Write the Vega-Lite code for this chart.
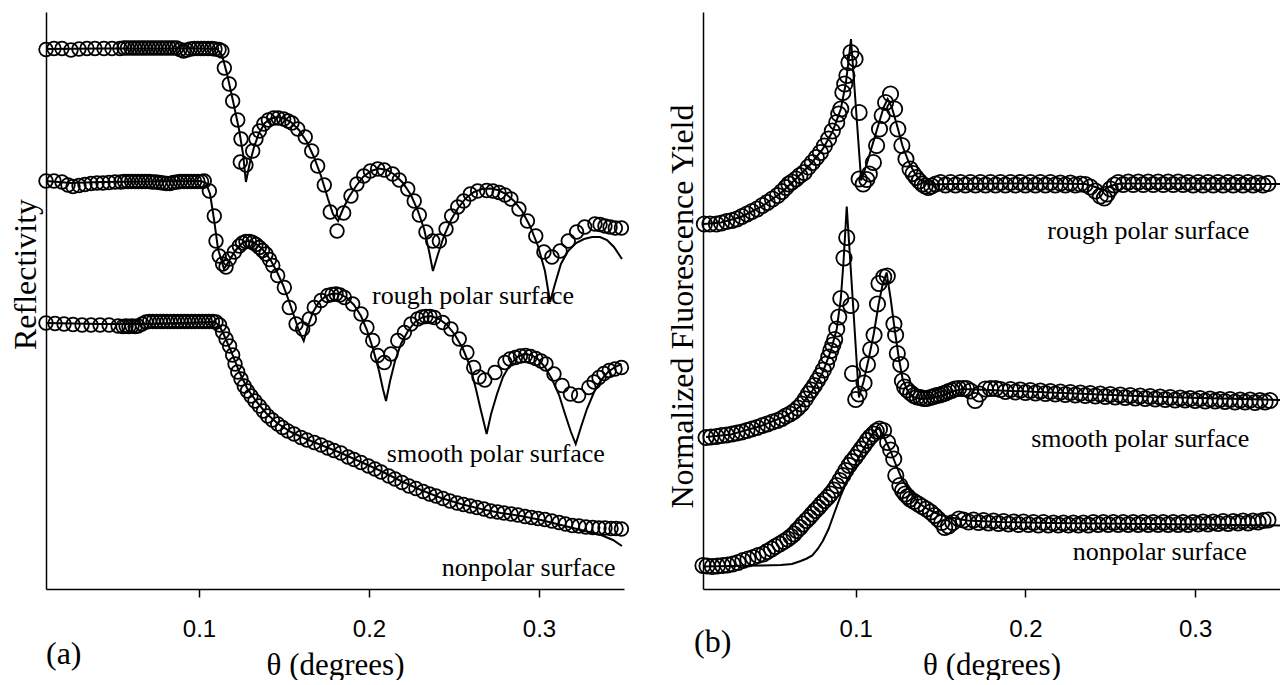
{
  "$schema": "https://vega.github.io/schema/vega-lite/v6.json",
  "background": "white",
  "padding": {"left": 9, "top": 12, "right": 0, "bottom": 0},
  "bounds": "flush",
  "spacing": 79,
  "config": {
    "view": {"stroke": null},
    "axis": {
      "grid": false,
      "domainColor": "black",
      "domainWidth": 1.5,
      "tickColor": "black",
      "tickWidth": 1.5,
      "labelColor": "black",
      "titleColor": "black",
      "titleFont": "Liberation Serif",
      "titleFontWeight": "normal",
      "labelFont": "Liberation Sans"
    }
  },
  "datasets": {
    "refl_pts": [
      {"curve":"rough","theta":0.0100,"value":10.79},{"curve":"rough","theta":0.0147,"value":10.81},{"curve":"rough","theta":0.0194,"value":10.81},{"curve":"rough","theta":0.0247,"value":10.78},{"curve":"rough","theta":0.0294,"value":10.80},{"curve":"rough","theta":0.0341,"value":10.81},{"curve":"rough","theta":0.0388,"value":10.81},{"curve":"rough","theta":0.0441,"value":10.81},{"curve":"rough","theta":0.0488,"value":10.81},{"curve":"rough","theta":0.0535,"value":10.81},
      {"curve":"rough","theta":0.0559,"value":10.82},{"curve":"rough","theta":0.0579,"value":10.82},{"curve":"rough","theta":0.0600,"value":10.82},{"curve":"rough","theta":0.0621,"value":10.82},{"curve":"rough","theta":0.0641,"value":10.82},{"curve":"rough","theta":0.0662,"value":10.82},{"curve":"rough","theta":0.0682,"value":10.82},{"curve":"rough","theta":0.0703,"value":10.82},{"curve":"rough","theta":0.0724,"value":10.82},{"curve":"rough","theta":0.0744,"value":10.82},{"curve":"rough","theta":0.0765,"value":10.82},{"curve":"rough","theta":0.0785,"value":10.82},{"curve":"rough","theta":0.0806,"value":10.82},{"curve":"rough","theta":0.0826,"value":10.82},{"curve":"rough","theta":0.0847,"value":10.82},{"curve":"rough","theta":0.0868,"value":10.82},
      {"curve":"rough","theta":0.0888,"value":10.79},{"curve":"rough","theta":0.0909,"value":10.76},{"curve":"rough","theta":0.0929,"value":10.78},{"curve":"rough","theta":0.0950,"value":10.80},{"curve":"rough","theta":0.0971,"value":10.81},{"curve":"rough","theta":0.0991,"value":10.81},{"curve":"rough","theta":0.1012,"value":10.81},{"curve":"rough","theta":0.1032,"value":10.81},{"curve":"rough","theta":0.1053,"value":10.81},{"curve":"rough","theta":0.1074,"value":10.81},{"curve":"rough","theta":0.1094,"value":10.80},{"curve":"rough","theta":0.1118,"value":10.79},{"curve":"rough","theta":0.1135,"value":10.76},
      {"curve":"rough","theta":0.1149,"value":10.42},{"curve":"rough","theta":0.1178,"value":10.10},{"curve":"rough","theta":0.1198,"value":9.76},{"curve":"rough","theta":0.1228,"value":9.38},{"curve":"rough","theta":0.1247,"value":9.00},{"curve":"rough","theta":0.1243,"value":8.54},{"curve":"rough","theta":0.1276,"value":8.48},{"curve":"rough","theta":0.1316,"value":8.76},{"curve":"rough","theta":0.1335,"value":9.00},{"curve":"rough","theta":0.1355,"value":9.16},{"curve":"rough","theta":0.1381,"value":9.30},{"curve":"rough","theta":0.1408,"value":9.38},{"curve":"rough","theta":0.1439,"value":9.42},{"curve":"rough","theta":0.1466,"value":9.42},{"curve":"rough","theta":0.1498,"value":9.40},{"curve":"rough","theta":0.1524,"value":9.36},{"curve":"rough","theta":0.1547,"value":9.32},{"curve":"rough","theta":0.1581,"value":9.20},{"curve":"rough","theta":0.1625,"value":9.04},{"curve":"rough","theta":0.1663,"value":8.76},{"curve":"rough","theta":0.1698,"value":8.46},{"curve":"rough","theta":0.1737,"value":8.08},{"curve":"rough","theta":0.1772,"value":7.54},{"curve":"rough","theta":0.1812,"value":7.16},{"curve":"rough","theta":0.1851,"value":7.52},{"curve":"rough","theta":0.1894,"value":7.86},{"curve":"rough","theta":0.1929,"value":8.10},{"curve":"rough","theta":0.1969,"value":8.26},{"curve":"rough","theta":0.2008,"value":8.36},{"curve":"rough","theta":0.2051,"value":8.40},{"curve":"rough","theta":0.2090,"value":8.38},{"curve":"rough","theta":0.2139,"value":8.30},{"curve":"rough","theta":0.2178,"value":8.18},{"curve":"rough","theta":0.2228,"value":8.00},{"curve":"rough","theta":0.2266,"value":7.76},{"curve":"rough","theta":0.2296,"value":7.48},{"curve":"rough","theta":0.2335,"value":7.14},{"curve":"rough","theta":0.2375,"value":6.96},{"curve":"rough","theta":0.2414,"value":6.96},{"curve":"rough","theta":0.2453,"value":7.20},{"curve":"rough","theta":0.2486,"value":7.46},{"curve":"rough","theta":0.2522,"value":7.64},{"curve":"rough","theta":0.2557,"value":7.76},{"curve":"rough","theta":0.2596,"value":7.90},{"curve":"rough","theta":0.2639,"value":7.96},{"curve":"rough","theta":0.2692,"value":7.97},{"curve":"rough","theta":0.2729,"value":7.96},{"curve":"rough","theta":0.2765,"value":7.93},{"curve":"rough","theta":0.2800,"value":7.88},{"curve":"rough","theta":0.2835,"value":7.80},{"curve":"rough","theta":0.2882,"value":7.60},{"curve":"rough","theta":0.2932,"value":7.36},{"curve":"rough","theta":0.2981,"value":7.06},{"curve":"rough","theta":0.3029,"value":6.74},{"curve":"rough","theta":0.3076,"value":6.64},{"curve":"rough","theta":0.3124,"value":6.76},{"curve":"rough","theta":0.3172,"value":6.96},{"curve":"rough","theta":0.3221,"value":7.14},{"curve":"rough","theta":0.3269,"value":7.24},{"curve":"rough","theta":0.3329,"value":7.30},{"curve":"rough","theta":0.3359,"value":7.29},{"curve":"rough","theta":0.3388,"value":7.26},{"curve":"rough","theta":0.3418,"value":7.24},{"curve":"rough","theta":0.3449,"value":7.22},{"curve":"rough","theta":0.3485,"value":7.22},

      {"curve":"smooth","theta":0.0100,"value":8.16},{"curve":"smooth","theta":0.0147,"value":8.16},{"curve":"smooth","theta":0.0194,"value":8.14},{"curve":"smooth","theta":0.0229,"value":8.08},{"curve":"smooth","theta":0.0259,"value":8.05},{"curve":"smooth","theta":0.0294,"value":8.07},{"curve":"smooth","theta":0.0329,"value":8.09},{"curve":"smooth","theta":0.0365,"value":8.11},{"curve":"smooth","theta":0.0400,"value":8.12},{"curve":"smooth","theta":0.0435,"value":8.12},{"curve":"smooth","theta":0.0471,"value":8.13},{"curve":"smooth","theta":0.0506,"value":8.14},{"curve":"smooth","theta":0.0541,"value":8.14},
      {"curve":"smooth","theta":0.0562,"value":8.15},{"curve":"smooth","theta":0.0582,"value":8.15},{"curve":"smooth","theta":0.0603,"value":8.15},{"curve":"smooth","theta":0.0624,"value":8.15},{"curve":"smooth","theta":0.0644,"value":8.15},{"curve":"smooth","theta":0.0665,"value":8.15},{"curve":"smooth","theta":0.0685,"value":8.15},{"curve":"smooth","theta":0.0706,"value":8.15},{"curve":"smooth","theta":0.0726,"value":8.14},{"curve":"smooth","theta":0.0747,"value":8.14},{"curve":"smooth","theta":0.0768,"value":8.13},{"curve":"smooth","theta":0.0788,"value":8.12},{"curve":"smooth","theta":0.0809,"value":8.11},{"curve":"smooth","theta":0.0829,"value":8.11},{"curve":"smooth","theta":0.0850,"value":8.13},{"curve":"smooth","theta":0.0871,"value":8.14},{"curve":"smooth","theta":0.0891,"value":8.15},{"curve":"smooth","theta":0.0912,"value":8.15},{"curve":"smooth","theta":0.0932,"value":8.15},{"curve":"smooth","theta":0.0953,"value":8.15},{"curve":"smooth","theta":0.0974,"value":8.15},{"curve":"smooth","theta":0.0994,"value":8.15},{"curve":"smooth","theta":0.1015,"value":8.15},
      {"curve":"smooth","theta":0.1031,"value":8.16},{"curve":"smooth","theta":0.1061,"value":7.96},{"curve":"smooth","theta":0.1090,"value":7.46},{"curve":"smooth","theta":0.1100,"value":6.96},{"curve":"smooth","theta":0.1119,"value":6.66},{"curve":"smooth","theta":0.1139,"value":6.50},{"curve":"smooth","theta":0.1159,"value":6.44},{"curve":"smooth","theta":0.1178,"value":6.60},{"curve":"smooth","theta":0.1208,"value":6.74},{"curve":"smooth","theta":0.1237,"value":6.86},{"curve":"smooth","theta":0.1256,"value":6.92},{"curve":"smooth","theta":0.1276,"value":6.95},{"curve":"smooth","theta":0.1297,"value":6.95},{"curve":"smooth","theta":0.1316,"value":6.93},{"curve":"smooth","theta":0.1335,"value":6.89},{"curve":"smooth","theta":0.1355,"value":6.83},{"curve":"smooth","theta":0.1374,"value":6.77},{"curve":"smooth","theta":0.1394,"value":6.70},{"curve":"smooth","theta":0.1415,"value":6.59},{"curve":"smooth","theta":0.1434,"value":6.47},{"curve":"smooth","theta":0.1463,"value":6.27},{"curve":"smooth","theta":0.1502,"value":6.03},{"curve":"smooth","theta":0.1531,"value":5.63},{"curve":"smooth","theta":0.1571,"value":5.30},{"curve":"smooth","theta":0.1610,"value":5.20},{"curve":"smooth","theta":0.1649,"value":5.40},{"curve":"smooth","theta":0.1678,"value":5.63},{"curve":"smooth","theta":0.1718,"value":5.77},{"curve":"smooth","theta":0.1757,"value":5.87},{"curve":"smooth","theta":0.1782,"value":5.89},{"curve":"smooth","theta":0.1806,"value":5.90},{"curve":"smooth","theta":0.1829,"value":5.88},{"curve":"smooth","theta":0.1855,"value":5.83},{"curve":"smooth","theta":0.1904,"value":5.70},{"curve":"smooth","theta":0.1953,"value":5.50},{"curve":"smooth","theta":0.1988,"value":5.23},{"curve":"smooth","theta":0.2022,"value":4.97},{"curve":"smooth","theta":0.2051,"value":4.67},{"curve":"smooth","theta":0.2090,"value":4.53},{"curve":"smooth","theta":0.2129,"value":4.70},{"curve":"smooth","theta":0.2169,"value":4.97},{"curve":"smooth","theta":0.2208,"value":5.13},{"curve":"smooth","theta":0.2247,"value":5.30},{"curve":"smooth","theta":0.2286,"value":5.40},{"curve":"smooth","theta":0.2312,"value":5.44},{"curve":"smooth","theta":0.2335,"value":5.45},{"curve":"smooth","theta":0.2359,"value":5.45},{"curve":"smooth","theta":0.2384,"value":5.43},{"curve":"smooth","theta":0.2434,"value":5.33},{"curve":"smooth","theta":0.2482,"value":5.20},{"curve":"smooth","theta":0.2531,"value":5.00},{"curve":"smooth","theta":0.2576,"value":4.73},{"curve":"smooth","theta":0.2616,"value":4.43},{"curve":"smooth","theta":0.2647,"value":4.24},{"curve":"smooth","theta":0.2681,"value":4.18},{"curve":"smooth","theta":0.2741,"value":4.33},{"curve":"smooth","theta":0.2800,"value":4.53},{"curve":"smooth","theta":0.2829,"value":4.60},{"curve":"smooth","theta":0.2861,"value":4.63},{"curve":"smooth","theta":0.2891,"value":4.66},{"curve":"smooth","theta":0.2921,"value":4.67},{"curve":"smooth","theta":0.2950,"value":4.65},{"curve":"smooth","theta":0.2981,"value":4.61},{"curve":"smooth","theta":0.3012,"value":4.56},{"curve":"smooth","theta":0.3041,"value":4.50},{"curve":"smooth","theta":0.3088,"value":4.30},{"curve":"smooth","theta":0.3136,"value":4.07},{"curve":"smooth","theta":0.3185,"value":3.90},{"curve":"smooth","theta":0.3233,"value":3.87},{"curve":"smooth","theta":0.3293,"value":4.03},{"curve":"smooth","theta":0.3324,"value":4.14},{"curve":"smooth","theta":0.3353,"value":4.23},{"curve":"smooth","theta":0.3382,"value":4.31},{"curve":"smooth","theta":0.3413,"value":4.37},{"curve":"smooth","theta":0.3447,"value":4.40},{"curve":"smooth","theta":0.3485,"value":4.43},

      {"curve":"nonpolar","theta":0.0100,"value":5.32},{"curve":"nonpolar","theta":0.0153,"value":5.31},{"curve":"nonpolar","theta":0.0206,"value":5.30},{"curve":"nonpolar","theta":0.0259,"value":5.29},{"curve":"nonpolar","theta":0.0312,"value":5.28},{"curve":"nonpolar","theta":0.0365,"value":5.28},{"curve":"nonpolar","theta":0.0418,"value":5.28},{"curve":"nonpolar","theta":0.0471,"value":5.28},{"curve":"nonpolar","theta":0.0524,"value":5.26},{"curve":"nonpolar","theta":0.0553,"value":5.25},{"curve":"nonpolar","theta":0.0571,"value":5.26},{"curve":"nonpolar","theta":0.0588,"value":5.25},{"curve":"nonpolar","theta":0.0606,"value":5.26},{"curve":"nonpolar","theta":0.0624,"value":5.25},{"curve":"nonpolar","theta":0.0641,"value":5.26},{"curve":"nonpolar","theta":0.0665,"value":5.30},{"curve":"nonpolar","theta":0.0688,"value":5.34},
      {"curve":"nonpolar","theta":0.0709,"value":5.35},{"curve":"nonpolar","theta":0.0729,"value":5.35},{"curve":"nonpolar","theta":0.0750,"value":5.35},{"curve":"nonpolar","theta":0.0771,"value":5.35},{"curve":"nonpolar","theta":0.0791,"value":5.35},{"curve":"nonpolar","theta":0.0812,"value":5.35},{"curve":"nonpolar","theta":0.0832,"value":5.35},{"curve":"nonpolar","theta":0.0853,"value":5.35},{"curve":"nonpolar","theta":0.0874,"value":5.35},{"curve":"nonpolar","theta":0.0894,"value":5.35},{"curve":"nonpolar","theta":0.0915,"value":5.35},{"curve":"nonpolar","theta":0.0935,"value":5.35},{"curve":"nonpolar","theta":0.0956,"value":5.35},{"curve":"nonpolar","theta":0.0976,"value":5.35},{"curve":"nonpolar","theta":0.0997,"value":5.35},{"curve":"nonpolar","theta":0.1018,"value":5.35},{"curve":"nonpolar","theta":0.1038,"value":5.35},{"curve":"nonpolar","theta":0.1059,"value":5.35},{"curve":"nonpolar","theta":0.1079,"value":5.35},{"curve":"nonpolar","theta":0.1100,"value":5.34},{"curve":"nonpolar","theta":0.1121,"value":5.28},
      {"curve":"nonpolar","theta":0.1139,"value":5.14},{"curve":"nonpolar","theta":0.1159,"value":5.00},{"curve":"nonpolar","theta":0.1180,"value":4.86},{"curve":"nonpolar","theta":0.1198,"value":4.68},{"curve":"nonpolar","theta":0.1212,"value":4.50},{"curve":"nonpolar","theta":0.1228,"value":4.34},{"curve":"nonpolar","theta":0.1247,"value":4.20},{"curve":"nonpolar","theta":0.1266,"value":4.06},{"curve":"nonpolar","theta":0.1285,"value":3.96},{"curve":"nonpolar","theta":0.1306,"value":3.86},{"curve":"nonpolar","theta":0.1329,"value":3.76},{"curve":"nonpolar","theta":0.1355,"value":3.66},{"curve":"nonpolar","theta":0.1379,"value":3.56},{"curve":"nonpolar","theta":0.1404,"value":3.46},{"curve":"nonpolar","theta":0.1432,"value":3.38},{"curve":"nonpolar","theta":0.1463,"value":3.30},{"curve":"nonpolar","theta":0.1491,"value":3.23},{"curve":"nonpolar","theta":0.1522,"value":3.16},{"curve":"nonpolar","theta":0.1559,"value":3.10},{"curve":"nonpolar","theta":0.1600,"value":3.03},{"curve":"nonpolar","theta":0.1635,"value":2.98},{"curve":"nonpolar","theta":0.1678,"value":2.93},{"curve":"nonpolar","theta":0.1718,"value":2.88},{"curve":"nonpolar","theta":0.1757,"value":2.82},{"curve":"nonpolar","theta":0.1794,"value":2.77},{"curve":"nonpolar","theta":0.1835,"value":2.72},{"curve":"nonpolar","theta":0.1876,"value":2.64},{"curve":"nonpolar","theta":0.1912,"value":2.59},{"curve":"nonpolar","theta":0.1953,"value":2.53},{"curve":"nonpolar","theta":0.1996,"value":2.46},{"curve":"nonpolar","theta":0.2035,"value":2.40},{"curve":"nonpolar","theta":0.2071,"value":2.34},{"curve":"nonpolar","theta":0.2116,"value":2.26},{"curve":"nonpolar","theta":0.2153,"value":2.20},{"curve":"nonpolar","theta":0.2194,"value":2.13},{"curve":"nonpolar","theta":0.2235,"value":2.06},{"curve":"nonpolar","theta":0.2276,"value":2.01},{"curve":"nonpolar","theta":0.2318,"value":1.95},{"curve":"nonpolar","theta":0.2356,"value":1.90},{"curve":"nonpolar","theta":0.2394,"value":1.86},{"curve":"nonpolar","theta":0.2435,"value":1.81},{"curve":"nonpolar","theta":0.2476,"value":1.76},{"curve":"nonpolar","theta":0.2518,"value":1.72},{"curve":"nonpolar","theta":0.2556,"value":1.69},{"curve":"nonpolar","theta":0.2596,"value":1.66},{"curve":"nonpolar","theta":0.2635,"value":1.63},{"curve":"nonpolar","theta":0.2676,"value":1.60},{"curve":"nonpolar","theta":0.2716,"value":1.56},{"curve":"nonpolar","theta":0.2756,"value":1.54},{"curve":"nonpolar","theta":0.2794,"value":1.52},{"curve":"nonpolar","theta":0.2836,"value":1.50},{"curve":"nonpolar","theta":0.2876,"value":1.48},{"curve":"nonpolar","theta":0.2918,"value":1.45},{"curve":"nonpolar","theta":0.2956,"value":1.43},{"curve":"nonpolar","theta":0.2994,"value":1.41},{"curve":"nonpolar","theta":0.3035,"value":1.39},{"curve":"nonpolar","theta":0.3076,"value":1.36},{"curve":"nonpolar","theta":0.3118,"value":1.33},{"curve":"nonpolar","theta":0.3156,"value":1.30},{"curve":"nonpolar","theta":0.3196,"value":1.27},{"curve":"nonpolar","theta":0.3235,"value":1.26},{"curve":"nonpolar","theta":0.3276,"value":1.24},{"curve":"nonpolar","theta":0.3316,"value":1.23},{"curve":"nonpolar","theta":0.3353,"value":1.22},{"curve":"nonpolar","theta":0.3388,"value":1.22},{"curve":"nonpolar","theta":0.3424,"value":1.21},{"curve":"nonpolar","theta":0.3453,"value":1.21},{"curve":"nonpolar","theta":0.3485,"value":1.20}
    ],
    "refl_fit": [
      {"curve":"rough","theta":0.0100,"value":10.80},{"curve":"rough","theta":0.0424,"value":10.81},{"curve":"rough","theta":0.1012,"value":10.81},{"curve":"rough","theta":0.1106,"value":10.80},{"curve":"rough","theta":0.1135,"value":10.68},{"curve":"rough","theta":0.1165,"value":10.30},{"curve":"rough","theta":0.1200,"value":9.76},{"curve":"rough","theta":0.1235,"value":9.20},{"curve":"rough","theta":0.1259,"value":8.70},{"curve":"rough","theta":0.1276,"value":8.14},{"curve":"rough","theta":0.1300,"value":8.54},{"curve":"rough","theta":0.1324,"value":8.84},{"curve":"rough","theta":0.1353,"value":9.12},{"curve":"rough","theta":0.1388,"value":9.32},{"curve":"rough","theta":0.1424,"value":9.41},{"curve":"rough","theta":0.1459,"value":9.44},{"curve":"rough","theta":0.1494,"value":9.42},{"curve":"rough","theta":0.1541,"value":9.34},{"curve":"rough","theta":0.1588,"value":9.18},{"curve":"rough","theta":0.1635,"value":8.94},{"curve":"rough","theta":0.1676,"value":8.64},{"curve":"rough","theta":0.1718,"value":8.26},{"curve":"rough","theta":0.1759,"value":7.80},{"curve":"rough","theta":0.1788,"value":7.50},{"curve":"rough","theta":0.1818,"value":7.36},{"curve":"rough","theta":0.1847,"value":7.60},{"curve":"rough","theta":0.1882,"value":7.84},{"curve":"rough","theta":0.1924,"value":8.06},{"curve":"rough","theta":0.1965,"value":8.24},{"curve":"rough","theta":0.2012,"value":8.36},{"curve":"rough","theta":0.2059,"value":8.41},{"curve":"rough","theta":0.2106,"value":8.38},{"curve":"rough","theta":0.2153,"value":8.28},{"curve":"rough","theta":0.2200,"value":8.12},{"curve":"rough","theta":0.2247,"value":7.88},{"curve":"rough","theta":0.2288,"value":7.56},{"curve":"rough","theta":0.2324,"value":7.20},{"curve":"rough","theta":0.2353,"value":6.76},{"curve":"rough","theta":0.2376,"value":6.36},{"curve":"rough","theta":0.2406,"value":6.70},{"curve":"rough","theta":0.2441,"value":7.06},{"curve":"rough","theta":0.2482,"value":7.38},{"curve":"rough","theta":0.2524,"value":7.62},{"curve":"rough","theta":0.2571,"value":7.82},{"curve":"rough","theta":0.2618,"value":7.94},{"curve":"rough","theta":0.2665,"value":8.00},{"curve":"rough","theta":0.2712,"value":8.01},{"curve":"rough","theta":0.2759,"value":7.98},{"curve":"rough","theta":0.2806,"value":7.90},{"curve":"rough","theta":0.2853,"value":7.76},{"curve":"rough","theta":0.2900,"value":7.56},{"curve":"rough","theta":0.2947,"value":7.26},{"curve":"rough","theta":0.2994,"value":6.86},{"curve":"rough","theta":0.3035,"value":6.36},{"curve":"rough","theta":0.3065,"value":5.74},{"curve":"rough","theta":0.3094,"value":6.10},{"curve":"rough","theta":0.3129,"value":6.50},{"curve":"rough","theta":0.3171,"value":6.76},{"curve":"rough","theta":0.3218,"value":6.92},{"curve":"rough","theta":0.3265,"value":7.00},{"curve":"rough","theta":0.3312,"value":7.04},{"curve":"rough","theta":0.3359,"value":7.04},{"curve":"rough","theta":0.3400,"value":6.98},{"curve":"rough","theta":0.3441,"value":6.84},{"curve":"rough","theta":0.3488,"value":6.60},

      {"curve":"smooth","theta":0.0100,"value":8.16},{"curve":"smooth","theta":0.0247,"value":8.12},{"curve":"smooth","theta":0.0424,"value":8.14},{"curve":"smooth","theta":0.1012,"value":8.16},{"curve":"smooth","theta":0.1041,"value":8.12},{"curve":"smooth","theta":0.1065,"value":7.90},{"curve":"smooth","theta":0.1088,"value":7.40},{"curve":"smooth","theta":0.1112,"value":6.80},{"curve":"smooth","theta":0.1147,"value":6.40},{"curve":"smooth","theta":0.1176,"value":6.56},{"curve":"smooth","theta":0.1212,"value":6.76},{"curve":"smooth","theta":0.1247,"value":6.90},{"curve":"smooth","theta":0.1282,"value":6.96},{"curve":"smooth","theta":0.1318,"value":6.94},{"curve":"smooth","theta":0.1353,"value":6.86},{"curve":"smooth","theta":0.1388,"value":6.74},{"curve":"smooth","theta":0.1424,"value":6.56},{"curve":"smooth","theta":0.1459,"value":6.34},{"curve":"smooth","theta":0.1494,"value":6.08},{"curve":"smooth","theta":0.1529,"value":5.76},{"curve":"smooth","theta":0.1565,"value":5.40},{"curve":"smooth","theta":0.1588,"value":5.16},{"curve":"smooth","theta":0.1616,"value":4.96},{"curve":"smooth","theta":0.1641,"value":5.26},{"curve":"smooth","theta":0.1671,"value":5.54},{"curve":"smooth","theta":0.1706,"value":5.74},{"curve":"smooth","theta":0.1747,"value":5.86},{"curve":"smooth","theta":0.1788,"value":5.91},{"curve":"smooth","theta":0.1829,"value":5.90},{"curve":"smooth","theta":0.1871,"value":5.82},{"curve":"smooth","theta":0.1912,"value":5.68},{"curve":"smooth","theta":0.1953,"value":5.46},{"curve":"smooth","theta":0.1988,"value":5.18},{"curve":"smooth","theta":0.2024,"value":4.80},{"curve":"smooth","theta":0.2059,"value":4.36},{"curve":"smooth","theta":0.2082,"value":4.00},{"curve":"smooth","theta":0.2100,"value":3.76},{"curve":"smooth","theta":0.2124,"value":4.16},{"curve":"smooth","theta":0.2153,"value":4.56},{"curve":"smooth","theta":0.2188,"value":4.90},{"curve":"smooth","theta":0.2229,"value":5.16},{"curve":"smooth","theta":0.2271,"value":5.34},{"curve":"smooth","theta":0.2318,"value":5.44},{"curve":"smooth","theta":0.2365,"value":5.46},{"curve":"smooth","theta":0.2412,"value":5.40},{"curve":"smooth","theta":0.2459,"value":5.28},{"curve":"smooth","theta":0.2506,"value":5.08},{"curve":"smooth","theta":0.2553,"value":4.80},{"curve":"smooth","theta":0.2594,"value":4.46},{"curve":"smooth","theta":0.2629,"value":4.00},{"curve":"smooth","theta":0.2659,"value":3.56},{"curve":"smooth","theta":0.2692,"value":3.10},{"curve":"smooth","theta":0.2718,"value":3.50},{"curve":"smooth","theta":0.2753,"value":3.90},{"curve":"smooth","theta":0.2788,"value":4.24},{"curve":"smooth","theta":0.2829,"value":4.48},{"curve":"smooth","theta":0.2871,"value":4.64},{"curve":"smooth","theta":0.2912,"value":4.70},{"curve":"smooth","theta":0.2953,"value":4.68},{"curve":"smooth","theta":0.2994,"value":4.60},{"curve":"smooth","theta":0.3035,"value":4.44},{"curve":"smooth","theta":0.3076,"value":4.20},{"curve":"smooth","theta":0.3118,"value":3.88},{"curve":"smooth","theta":0.3153,"value":3.50},{"curve":"smooth","theta":0.3188,"value":3.14},{"curve":"smooth","theta":0.3216,"value":2.90},{"curve":"smooth","theta":0.3247,"value":3.24},{"curve":"smooth","theta":0.3282,"value":3.60},{"curve":"smooth","theta":0.3324,"value":3.94},{"curve":"smooth","theta":0.3365,"value":4.18},{"curve":"smooth","theta":0.3406,"value":4.34},{"curve":"smooth","theta":0.3447,"value":4.44},{"curve":"smooth","theta":0.3485,"value":4.50},

      {"curve":"nonpolar","theta":0.0100,"value":5.32},{"curve":"nonpolar","theta":0.0424,"value":5.30},{"curve":"nonpolar","theta":0.0659,"value":5.30},{"curve":"nonpolar","theta":0.1088,"value":5.34},{"curve":"nonpolar","theta":0.1118,"value":5.28},{"curve":"nonpolar","theta":0.1147,"value":5.08},{"curve":"nonpolar","theta":0.1188,"value":4.76},{"curve":"nonpolar","theta":0.1235,"value":4.36},{"curve":"nonpolar","theta":0.1282,"value":4.02},{"curve":"nonpolar","theta":0.1335,"value":3.76},{"curve":"nonpolar","theta":0.1394,"value":3.52},{"curve":"nonpolar","theta":0.1459,"value":3.32},{"curve":"nonpolar","theta":0.1541,"value":3.14},{"curve":"nonpolar","theta":0.1629,"value":3.00},{"curve":"nonpolar","theta":0.1718,"value":2.88},{"curve":"nonpolar","theta":0.1835,"value":2.72},{"curve":"nonpolar","theta":0.1953,"value":2.54},{"curve":"nonpolar","theta":0.2071,"value":2.36},{"curve":"nonpolar","theta":0.2188,"value":2.16},{"curve":"nonpolar","theta":0.2306,"value":1.98},{"curve":"nonpolar","theta":0.2424,"value":1.82},{"curve":"nonpolar","theta":0.2541,"value":1.70},{"curve":"nonpolar","theta":0.2659,"value":1.60},{"curve":"nonpolar","theta":0.2776,"value":1.52},{"curve":"nonpolar","theta":0.2894,"value":1.46},{"curve":"nonpolar","theta":0.3012,"value":1.38},{"curve":"nonpolar","theta":0.3129,"value":1.28},{"curve":"nonpolar","theta":0.3247,"value":1.18},{"curve":"nonpolar","theta":0.3365,"value":1.08},{"curve":"nonpolar","theta":0.3435,"value":0.98},{"curve":"nonpolar","theta":0.3488,"value":0.86}
    ],
    "refl_labels": [
      {"theta":0.2612,"value":5.71,"label":"rough polar surface"},
      {"theta":0.2746,"value":2.55,"label":"smooth polar surface"},
      {"theta":0.2939,"value":0.26,"label":"nonpolar surface"}
    ],
    "refl_panel": [{"theta":0.0100,"value":-1.5,"label":"(a)"}],
    "fluo_pts": [
      {"curve":"rough","theta":0.0108,"value":7.30},{"curve":"rough","theta":0.0141,"value":7.30},{"curve":"rough","theta":0.0179,"value":7.30},{"curve":"rough","theta":0.0209,"value":7.32},{"curve":"rough","theta":0.0239,"value":7.35},{"curve":"rough","theta":0.0271,"value":7.37},{"curve":"rough","theta":0.0300,"value":7.40},{"curve":"rough","theta":0.0329,"value":7.45},{"curve":"rough","theta":0.0359,"value":7.50},{"curve":"rough","theta":0.0388,"value":7.55},{"curve":"rough","theta":0.0419,"value":7.60},{"curve":"rough","theta":0.0450,"value":7.67},{"curve":"rough","theta":0.0479,"value":7.73},{"curve":"rough","theta":0.0509,"value":7.80},{"curve":"rough","theta":0.0539,"value":7.87},{"curve":"rough","theta":0.0565,"value":7.95},{"curve":"rough","theta":0.0588,"value":8.03},{"curve":"rough","theta":0.0606,"value":8.10},{"curve":"rough","theta":0.0624,"value":8.14},{"curve":"rough","theta":0.0648,"value":8.20},{"curve":"rough","theta":0.0671,"value":8.27},{"curve":"rough","theta":0.0696,"value":8.33},{"curve":"rough","theta":0.0721,"value":8.44},{"curve":"rough","theta":0.0744,"value":8.53},{"curve":"rough","theta":0.0768,"value":8.63},{"curve":"rough","theta":0.0792,"value":8.73},{"curve":"rough","theta":0.0815,"value":8.86},{"curve":"rough","theta":0.0840,"value":9.00},{"curve":"rough","theta":0.0862,"value":9.16},{"curve":"rough","theta":0.0888,"value":9.33},{"curve":"rough","theta":0.0900,"value":9.50},{"curve":"rough","theta":0.0912,"value":9.60},{"curve":"rough","theta":0.0924,"value":9.93},{"curve":"rough","theta":0.0935,"value":10.10},{"curve":"rough","theta":0.0948,"value":10.27},{"curve":"rough","theta":0.0960,"value":10.53},{"curve":"rough","theta":0.0972,"value":10.73},{"curve":"rough","theta":0.0996,"value":10.60},{"curve":"rough","theta":0.1020,"value":9.53},{"curve":"rough","theta":0.1020,"value":8.20},{"curve":"rough","theta":0.1044,"value":8.10},{"curve":"rough","theta":0.1065,"value":8.19},{"curve":"rough","theta":0.1080,"value":8.30},{"curve":"rough","theta":0.1104,"value":8.53},{"curve":"rough","theta":0.1123,"value":8.87},{"curve":"rough","theta":0.1140,"value":9.20},{"curve":"rough","theta":0.1156,"value":9.47},{"curve":"rough","theta":0.1176,"value":9.73},{"curve":"rough","theta":0.1205,"value":9.90},{"curve":"rough","theta":0.1229,"value":9.60},{"curve":"rough","theta":0.1248,"value":9.20},{"curve":"rough","theta":0.1272,"value":8.87},{"curve":"rough","theta":0.1296,"value":8.60},{"curve":"rough","theta":0.1320,"value":8.40},{"curve":"rough","theta":0.1338,"value":8.31},{"curve":"rough","theta":0.1356,"value":8.23},{"curve":"rough","theta":0.1374,"value":8.16},{"curve":"rough","theta":0.1392,"value":8.10},{"curve":"rough","theta":0.1409,"value":8.06},{"curve":"rough","theta":0.1428,"value":8.03},{"curve":"rough","theta":0.1447,"value":8.06},
      {"curve":"rough","theta":0.1471,"value":8.10},{"curve":"rough","theta":0.1500,"value":8.13},{"curve":"rough","theta":0.1529,"value":8.08},{"curve":"rough","theta":0.1559,"value":8.13},{"curve":"rough","theta":0.1588,"value":8.08},{"curve":"rough","theta":0.1618,"value":8.13},{"curve":"rough","theta":0.1647,"value":8.08},{"curve":"rough","theta":0.1676,"value":8.13},{"curve":"rough","theta":0.1706,"value":8.08},{"curve":"rough","theta":0.1735,"value":8.13},{"curve":"rough","theta":0.1765,"value":8.08},{"curve":"rough","theta":0.1794,"value":8.13},{"curve":"rough","theta":0.1824,"value":8.08},{"curve":"rough","theta":0.1853,"value":8.13},{"curve":"rough","theta":0.1882,"value":8.08},{"curve":"rough","theta":0.1912,"value":8.13},{"curve":"rough","theta":0.1941,"value":8.08},{"curve":"rough","theta":0.1971,"value":8.13},{"curve":"rough","theta":0.2000,"value":8.08},{"curve":"rough","theta":0.2029,"value":8.13},{"curve":"rough","theta":0.2059,"value":8.08},{"curve":"rough","theta":0.2088,"value":8.13},{"curve":"rough","theta":0.2118,"value":8.08},{"curve":"rough","theta":0.2147,"value":8.13},{"curve":"rough","theta":0.2176,"value":8.08},{"curve":"rough","theta":0.2206,"value":8.12},{"curve":"rough","theta":0.2235,"value":8.08},{"curve":"rough","theta":0.2265,"value":8.12},{"curve":"rough","theta":0.2294,"value":8.08},{"curve":"rough","theta":0.2324,"value":8.10},{"curve":"rough","theta":0.2353,"value":8.09},
      {"curve":"rough","theta":0.2382,"value":8.04},{"curve":"rough","theta":0.2412,"value":7.96},{"curve":"rough","theta":0.2441,"value":7.86},{"curve":"rough","theta":0.2465,"value":7.82},{"curve":"rough","theta":0.2482,"value":7.90},{"curve":"rough","theta":0.2500,"value":8.00},{"curve":"rough","theta":0.2524,"value":8.08},
      {"curve":"rough","theta":0.2547,"value":8.13},{"curve":"rough","theta":0.2576,"value":8.09},{"curve":"rough","theta":0.2606,"value":8.14},{"curve":"rough","theta":0.2635,"value":8.09},{"curve":"rough","theta":0.2665,"value":8.14},{"curve":"rough","theta":0.2694,"value":8.09},{"curve":"rough","theta":0.2724,"value":8.14},{"curve":"rough","theta":0.2753,"value":8.09},{"curve":"rough","theta":0.2782,"value":8.14},{"curve":"rough","theta":0.2812,"value":8.09},{"curve":"rough","theta":0.2841,"value":8.14},{"curve":"rough","theta":0.2871,"value":8.09},{"curve":"rough","theta":0.2900,"value":8.14},{"curve":"rough","theta":0.2929,"value":8.09},{"curve":"rough","theta":0.2959,"value":8.13},{"curve":"rough","theta":0.2988,"value":8.08},{"curve":"rough","theta":0.3018,"value":8.13},{"curve":"rough","theta":0.3047,"value":8.08},{"curve":"rough","theta":0.3076,"value":8.13},{"curve":"rough","theta":0.3106,"value":8.08},{"curve":"rough","theta":0.3135,"value":8.13},{"curve":"rough","theta":0.3165,"value":8.08},{"curve":"rough","theta":0.3194,"value":8.13},{"curve":"rough","theta":0.3224,"value":8.08},{"curve":"rough","theta":0.3253,"value":8.13},{"curve":"rough","theta":0.3282,"value":8.08},{"curve":"rough","theta":0.3312,"value":8.13},{"curve":"rough","theta":0.3341,"value":8.08},{"curve":"rough","theta":0.3371,"value":8.12},{"curve":"rough","theta":0.3400,"value":8.08},{"curve":"rough","theta":0.3429,"value":8.11},

      {"curve":"smooth","theta":0.0118,"value":3.03},{"curve":"smooth","theta":0.0147,"value":3.04},{"curve":"smooth","theta":0.0179,"value":3.05},{"curve":"smooth","theta":0.0209,"value":3.07},{"curve":"smooth","theta":0.0239,"value":3.08},{"curve":"smooth","theta":0.0271,"value":3.10},{"curve":"smooth","theta":0.0300,"value":3.12},{"curve":"smooth","theta":0.0329,"value":3.14},{"curve":"smooth","theta":0.0359,"value":3.17},{"curve":"smooth","theta":0.0388,"value":3.20},{"curve":"smooth","theta":0.0419,"value":3.23},{"curve":"smooth","theta":0.0450,"value":3.27},{"curve":"smooth","theta":0.0479,"value":3.30},{"curve":"smooth","theta":0.0509,"value":3.34},{"curve":"smooth","theta":0.0539,"value":3.37},{"curve":"smooth","theta":0.0565,"value":3.41},{"curve":"smooth","theta":0.0588,"value":3.46},{"curve":"smooth","theta":0.0612,"value":3.50},{"curve":"smooth","theta":0.0635,"value":3.55},{"curve":"smooth","theta":0.0659,"value":3.62},{"curve":"smooth","theta":0.0682,"value":3.70},{"curve":"smooth","theta":0.0703,"value":3.80},{"curve":"smooth","theta":0.0721,"value":3.90},{"curve":"smooth","theta":0.0738,"value":3.98},{"curve":"smooth","theta":0.0756,"value":4.07},{"curve":"smooth","theta":0.0774,"value":4.17},{"curve":"smooth","theta":0.0792,"value":4.27},{"curve":"smooth","theta":0.0809,"value":4.38},{"curve":"smooth","theta":0.0828,"value":4.50},{"curve":"smooth","theta":0.0841,"value":4.64},{"curve":"smooth","theta":0.0853,"value":4.77},{"curve":"smooth","theta":0.0865,"value":4.88},{"curve":"smooth","theta":0.0876,"value":4.99},{"curve":"smooth","theta":0.0888,"value":5.20},{"curve":"smooth","theta":0.0900,"value":5.44},{"curve":"smooth","theta":0.0912,"value":5.81},{"curve":"smooth","theta":0.0931,"value":6.62},{"curve":"smooth","theta":0.0947,"value":7.03},{"curve":"smooth","theta":0.0971,"value":5.67},{"curve":"smooth","theta":0.0981,"value":4.31},{"curve":"smooth","theta":0.1000,"value":3.79},{"curve":"smooth","theta":0.1019,"value":3.90},{"curve":"smooth","theta":0.1049,"value":4.12},{"curve":"smooth","theta":0.1069,"value":4.49},{"curve":"smooth","theta":0.1088,"value":4.79},{"curve":"smooth","theta":0.1108,"value":5.08},{"curve":"smooth","theta":0.1128,"value":5.70},{"curve":"smooth","theta":0.1137,"value":6.11},{"curve":"smooth","theta":0.1165,"value":6.24},{"curve":"smooth","theta":0.1186,"value":6.26},{"curve":"smooth","theta":0.1225,"value":5.30},{"curve":"smooth","theta":0.1235,"value":5.08},{"curve":"smooth","theta":0.1245,"value":4.71},{"curve":"smooth","theta":0.1265,"value":4.49},{"curve":"smooth","theta":0.1275,"value":4.16},{"curve":"smooth","theta":0.1288,"value":4.04},{"curve":"smooth","theta":0.1304,"value":3.98},{"curve":"smooth","theta":0.1324,"value":3.92},{"curve":"smooth","theta":0.1343,"value":3.87},{"curve":"smooth","theta":0.1362,"value":3.84},{"curve":"smooth","theta":0.1382,"value":3.83},{"curve":"smooth","theta":0.1400,"value":3.81},{"curve":"smooth","theta":0.1418,"value":3.81},{"curve":"smooth","theta":0.1440,"value":3.83},{"curve":"smooth","theta":0.1459,"value":3.85},{"curve":"smooth","theta":0.1476,"value":3.87},{"curve":"smooth","theta":0.1494,"value":3.88},{"curve":"smooth","theta":0.1512,"value":3.90},{"curve":"smooth","theta":0.1529,"value":3.92},{"curve":"smooth","theta":0.1547,"value":3.95},{"curve":"smooth","theta":0.1565,"value":3.97},{"curve":"smooth","theta":0.1584,"value":4.00},{"curve":"smooth","theta":0.1606,"value":4.01},{"curve":"smooth","theta":0.1632,"value":4.01},{"curve":"smooth","theta":0.1653,"value":4.01},{"curve":"smooth","theta":0.1676,"value":3.96},{"curve":"smooth","theta":0.1704,"value":3.77},{"curve":"smooth","theta":0.1729,"value":3.90},{"curve":"smooth","theta":0.1764,"value":4.00},{"curve":"smooth","theta":0.1794,"value":4.01},{"curve":"smooth","theta":0.1824,"value":4.01},
      {"curve":"smooth","theta":0.1853,"value":3.99},{"curve":"smooth","theta":0.1882,"value":3.95},{"curve":"smooth","theta":0.1912,"value":3.99},{"curve":"smooth","theta":0.1941,"value":3.94},{"curve":"smooth","theta":0.1971,"value":3.98},{"curve":"smooth","theta":0.2000,"value":3.93},{"curve":"smooth","theta":0.2029,"value":3.97},{"curve":"smooth","theta":0.2059,"value":3.92},{"curve":"smooth","theta":0.2088,"value":3.96},{"curve":"smooth","theta":0.2118,"value":3.91},{"curve":"smooth","theta":0.2147,"value":3.95},{"curve":"smooth","theta":0.2176,"value":3.90},{"curve":"smooth","theta":0.2206,"value":3.94},{"curve":"smooth","theta":0.2235,"value":3.89},{"curve":"smooth","theta":0.2265,"value":3.93},{"curve":"smooth","theta":0.2294,"value":3.88},{"curve":"smooth","theta":0.2324,"value":3.92},{"curve":"smooth","theta":0.2353,"value":3.87},{"curve":"smooth","theta":0.2382,"value":3.91},{"curve":"smooth","theta":0.2412,"value":3.86},{"curve":"smooth","theta":0.2441,"value":3.90},{"curve":"smooth","theta":0.2471,"value":3.85},{"curve":"smooth","theta":0.2500,"value":3.89},{"curve":"smooth","theta":0.2529,"value":3.84},{"curve":"smooth","theta":0.2559,"value":3.88},{"curve":"smooth","theta":0.2588,"value":3.83},{"curve":"smooth","theta":0.2618,"value":3.87},{"curve":"smooth","theta":0.2647,"value":3.82},{"curve":"smooth","theta":0.2676,"value":3.86},{"curve":"smooth","theta":0.2706,"value":3.81},{"curve":"smooth","theta":0.2735,"value":3.85},{"curve":"smooth","theta":0.2765,"value":3.80},{"curve":"smooth","theta":0.2794,"value":3.84},{"curve":"smooth","theta":0.2824,"value":3.79},{"curve":"smooth","theta":0.2853,"value":3.83},{"curve":"smooth","theta":0.2882,"value":3.78},{"curve":"smooth","theta":0.2912,"value":3.82},{"curve":"smooth","theta":0.2941,"value":3.78},{"curve":"smooth","theta":0.2971,"value":3.81},{"curve":"smooth","theta":0.3000,"value":3.77},{"curve":"smooth","theta":0.3029,"value":3.81},{"curve":"smooth","theta":0.3059,"value":3.76},{"curve":"smooth","theta":0.3088,"value":3.80},{"curve":"smooth","theta":0.3118,"value":3.76},{"curve":"smooth","theta":0.3147,"value":3.79},{"curve":"smooth","theta":0.3176,"value":3.75},{"curve":"smooth","theta":0.3206,"value":3.79},{"curve":"smooth","theta":0.3235,"value":3.74},{"curve":"smooth","theta":0.3265,"value":3.78},{"curve":"smooth","theta":0.3294,"value":3.74},{"curve":"smooth","theta":0.3324,"value":3.78},{"curve":"smooth","theta":0.3353,"value":3.73},{"curve":"smooth","theta":0.3382,"value":3.77},{"curve":"smooth","theta":0.3412,"value":3.74},{"curve":"smooth","theta":0.3441,"value":3.77},

      {"curve":"nonpolar","theta":0.0100,"value":0.47},{"curve":"nonpolar","theta":0.0124,"value":0.46},{"curve":"nonpolar","theta":0.0155,"value":0.45},{"curve":"nonpolar","theta":0.0185,"value":0.46},{"curve":"nonpolar","theta":0.0215,"value":0.47},{"curve":"nonpolar","theta":0.0244,"value":0.48},{"curve":"nonpolar","theta":0.0275,"value":0.50},{"curve":"nonpolar","theta":0.0306,"value":0.53},{"curve":"nonpolar","theta":0.0335,"value":0.57},{"curve":"nonpolar","theta":0.0365,"value":0.60},{"curve":"nonpolar","theta":0.0395,"value":0.63},{"curve":"nonpolar","theta":0.0424,"value":0.67},{"curve":"nonpolar","theta":0.0455,"value":0.70},{"curve":"nonpolar","theta":0.0479,"value":0.75},{"curve":"nonpolar","theta":0.0504,"value":0.80},{"curve":"nonpolar","theta":0.0526,"value":0.85},{"curve":"nonpolar","theta":0.0552,"value":0.90},{"curve":"nonpolar","theta":0.0576,"value":0.95},{"curve":"nonpolar","theta":0.0599,"value":1.00},{"curve":"nonpolar","theta":0.0618,"value":1.05},{"curve":"nonpolar","theta":0.0636,"value":1.10},{"curve":"nonpolar","theta":0.0653,"value":1.17},{"curve":"nonpolar","theta":0.0672,"value":1.23},{"curve":"nonpolar","theta":0.0688,"value":1.30},{"curve":"nonpolar","theta":0.0708,"value":1.37},{"curve":"nonpolar","theta":0.0726,"value":1.43},{"curve":"nonpolar","theta":0.0744,"value":1.50},{"curve":"nonpolar","theta":0.0762,"value":1.57},{"curve":"nonpolar","theta":0.0780,"value":1.63},{"curve":"nonpolar","theta":0.0797,"value":1.70},{"curve":"nonpolar","theta":0.0816,"value":1.77},{"curve":"nonpolar","theta":0.0834,"value":1.83},{"curve":"nonpolar","theta":0.0852,"value":1.90},{"curve":"nonpolar","theta":0.0871,"value":1.98},{"curve":"nonpolar","theta":0.0888,"value":2.07},{"curve":"nonpolar","theta":0.0906,"value":2.17},{"curve":"nonpolar","theta":0.0924,"value":2.27},{"curve":"nonpolar","theta":0.0941,"value":2.37},{"curve":"nonpolar","theta":0.0960,"value":2.47},{"curve":"nonpolar","theta":0.0976,"value":2.55},{"curve":"nonpolar","theta":0.0996,"value":2.63},{"curve":"nonpolar","theta":0.1015,"value":2.72},{"curve":"nonpolar","theta":0.1032,"value":2.80},{"curve":"nonpolar","theta":0.1050,"value":2.88},{"curve":"nonpolar","theta":0.1068,"value":2.97},{"curve":"nonpolar","theta":0.1085,"value":3.04},{"curve":"nonpolar","theta":0.1104,"value":3.10},{"curve":"nonpolar","theta":0.1121,"value":3.16},{"curve":"nonpolar","theta":0.1140,"value":3.20},{"curve":"nonpolar","theta":0.1164,"value":3.17},{"curve":"nonpolar","theta":0.1188,"value":2.93},{"curve":"nonpolar","theta":0.1206,"value":2.78},{"curve":"nonpolar","theta":0.1224,"value":2.60},{"curve":"nonpolar","theta":0.1236,"value":2.27},{"curve":"nonpolar","theta":0.1260,"value":2.07},{"curve":"nonpolar","theta":0.1276,"value":1.97},{"curve":"nonpolar","theta":0.1291,"value":1.90},{"curve":"nonpolar","theta":0.1306,"value":1.85},{"curve":"nonpolar","theta":0.1320,"value":1.80},{"curve":"nonpolar","theta":0.1344,"value":1.75},{"curve":"nonpolar","theta":0.1368,"value":1.70},{"curve":"nonpolar","theta":0.1391,"value":1.65},{"curve":"nonpolar","theta":0.1416,"value":1.60},{"curve":"nonpolar","theta":0.1441,"value":1.54},{"curve":"nonpolar","theta":0.1464,"value":1.47},{"curve":"nonpolar","theta":0.1485,"value":1.40},{"curve":"nonpolar","theta":0.1507,"value":1.33},{"curve":"nonpolar","theta":0.1524,"value":1.23},{"curve":"nonpolar","theta":0.1547,"value":1.26},{"curve":"nonpolar","theta":0.1572,"value":1.33},{"curve":"nonpolar","theta":0.1608,"value":1.40},
      {"curve":"nonpolar","theta":0.1635,"value":1.38},{"curve":"nonpolar","theta":0.1665,"value":1.34},{"curve":"nonpolar","theta":0.1694,"value":1.38},{"curve":"nonpolar","theta":0.1724,"value":1.33},{"curve":"nonpolar","theta":0.1753,"value":1.37},{"curve":"nonpolar","theta":0.1782,"value":1.32},{"curve":"nonpolar","theta":0.1812,"value":1.36},{"curve":"nonpolar","theta":0.1841,"value":1.31},{"curve":"nonpolar","theta":0.1871,"value":1.35},{"curve":"nonpolar","theta":0.1900,"value":1.30},{"curve":"nonpolar","theta":0.1929,"value":1.34},{"curve":"nonpolar","theta":0.1959,"value":1.29},{"curve":"nonpolar","theta":0.1988,"value":1.34},{"curve":"nonpolar","theta":0.2018,"value":1.29},{"curve":"nonpolar","theta":0.2047,"value":1.33},{"curve":"nonpolar","theta":0.2076,"value":1.28},{"curve":"nonpolar","theta":0.2106,"value":1.33},{"curve":"nonpolar","theta":0.2135,"value":1.28},{"curve":"nonpolar","theta":0.2165,"value":1.32},{"curve":"nonpolar","theta":0.2194,"value":1.28},{"curve":"nonpolar","theta":0.2224,"value":1.32},{"curve":"nonpolar","theta":0.2253,"value":1.28},{"curve":"nonpolar","theta":0.2282,"value":1.32},{"curve":"nonpolar","theta":0.2312,"value":1.28},{"curve":"nonpolar","theta":0.2341,"value":1.32},{"curve":"nonpolar","theta":0.2371,"value":1.28},{"curve":"nonpolar","theta":0.2400,"value":1.33},{"curve":"nonpolar","theta":0.2429,"value":1.29},{"curve":"nonpolar","theta":0.2459,"value":1.33},{"curve":"nonpolar","theta":0.2488,"value":1.29},{"curve":"nonpolar","theta":0.2518,"value":1.33},{"curve":"nonpolar","theta":0.2547,"value":1.29},{"curve":"nonpolar","theta":0.2576,"value":1.33},{"curve":"nonpolar","theta":0.2606,"value":1.29},{"curve":"nonpolar","theta":0.2635,"value":1.33},{"curve":"nonpolar","theta":0.2665,"value":1.29},{"curve":"nonpolar","theta":0.2694,"value":1.33},{"curve":"nonpolar","theta":0.2724,"value":1.29},{"curve":"nonpolar","theta":0.2753,"value":1.33},{"curve":"nonpolar","theta":0.2782,"value":1.29},{"curve":"nonpolar","theta":0.2812,"value":1.33},{"curve":"nonpolar","theta":0.2841,"value":1.29},{"curve":"nonpolar","theta":0.2871,"value":1.33},{"curve":"nonpolar","theta":0.2900,"value":1.29},{"curve":"nonpolar","theta":0.2929,"value":1.33},{"curve":"nonpolar","theta":0.2959,"value":1.29},{"curve":"nonpolar","theta":0.2988,"value":1.33},{"curve":"nonpolar","theta":0.3018,"value":1.30},{"curve":"nonpolar","theta":0.3047,"value":1.34},{"curve":"nonpolar","theta":0.3076,"value":1.30},{"curve":"nonpolar","theta":0.3106,"value":1.34},{"curve":"nonpolar","theta":0.3135,"value":1.31},{"curve":"nonpolar","theta":0.3165,"value":1.35},{"curve":"nonpolar","theta":0.3194,"value":1.31},{"curve":"nonpolar","theta":0.3224,"value":1.35},{"curve":"nonpolar","theta":0.3253,"value":1.32},{"curve":"nonpolar","theta":0.3282,"value":1.36},{"curve":"nonpolar","theta":0.3312,"value":1.32},{"curve":"nonpolar","theta":0.3341,"value":1.36},{"curve":"nonpolar","theta":0.3371,"value":1.34},{"curve":"nonpolar","theta":0.3400,"value":1.37},{"curve":"nonpolar","theta":0.3429,"value":1.38}
    ],
    "fluo_fit": [
      {"curve":"rough","theta":0.0106,"value":7.30},{"curve":"rough","theta":0.0206,"value":7.33},{"curve":"rough","theta":0.0324,"value":7.44},{"curve":"rough","theta":0.0441,"value":7.64},{"curve":"rough","theta":0.0559,"value":7.92},{"curve":"rough","theta":0.0647,"value":8.20},{"curve":"rough","theta":0.0735,"value":8.50},{"curve":"rough","theta":0.0806,"value":8.80},{"curve":"rough","theta":0.0865,"value":9.16},{"curve":"rough","theta":0.0912,"value":9.60},{"curve":"rough","theta":0.0941,"value":10.10},{"curve":"rough","theta":0.0959,"value":10.60},{"curve":"rough","theta":0.0972,"value":11.00},{"curve":"rough","theta":0.1032,"value":8.17},{"curve":"rough","theta":0.1065,"value":8.50},{"curve":"rough","theta":0.1100,"value":8.90},{"curve":"rough","theta":0.1135,"value":9.30},{"curve":"rough","theta":0.1165,"value":9.64},{"curve":"rough","theta":0.1188,"value":9.80},{"curve":"rough","theta":0.1212,"value":9.64},{"curve":"rough","theta":0.1241,"value":9.30},{"curve":"rough","theta":0.1276,"value":8.86},{"curve":"rough","theta":0.1312,"value":8.54},{"curve":"rough","theta":0.1353,"value":8.28},{"curve":"rough","theta":0.1394,"value":8.14},{"curve":"rough","theta":0.1441,"value":8.09},{"curve":"rough","theta":0.1559,"value":8.10},{"curve":"rough","theta":0.1853,"value":8.11},{"curve":"rough","theta":0.2147,"value":8.11},{"curve":"rough","theta":0.2353,"value":8.10},{"curve":"rough","theta":0.2412,"value":8.04},{"curve":"rough","theta":0.2459,"value":7.97},{"curve":"rough","theta":0.2500,"value":8.06},{"curve":"rough","theta":0.2559,"value":8.11},{"curve":"rough","theta":0.3029,"value":8.11},{"curve":"rough","theta":0.3500,"value":8.10},

      {"curve":"smooth","theta":0.0118,"value":3.04},{"curve":"smooth","theta":0.0265,"value":3.09},{"curve":"smooth","theta":0.0441,"value":3.26},{"curve":"smooth","theta":0.0588,"value":3.46},{"curve":"smooth","theta":0.0676,"value":3.66},{"curve":"smooth","theta":0.0747,"value":3.98},{"curve":"smooth","theta":0.0806,"value":4.34},{"curve":"smooth","theta":0.0853,"value":4.76},{"curve":"smooth","theta":0.0888,"value":5.20},{"curve":"smooth","theta":0.0912,"value":5.80},{"curve":"smooth","theta":0.0929,"value":6.60},{"curve":"smooth","theta":0.0941,"value":7.30},{"curve":"smooth","theta":0.0947,"value":7.65},{"curve":"smooth","theta":0.0982,"value":5.80},{"curve":"smooth","theta":0.1019,"value":3.83},{"curve":"smooth","theta":0.1047,"value":4.16},{"curve":"smooth","theta":0.1076,"value":4.60},{"curve":"smooth","theta":0.1106,"value":5.10},{"curve":"smooth","theta":0.1135,"value":5.70},{"curve":"smooth","theta":0.1159,"value":6.10},{"curve":"smooth","theta":0.1182,"value":6.33},{"curve":"smooth","theta":0.1206,"value":5.80},{"curve":"smooth","theta":0.1229,"value":5.20},{"curve":"smooth","theta":0.1253,"value":4.64},{"curve":"smooth","theta":0.1276,"value":4.20},{"curve":"smooth","theta":0.1306,"value":3.96},{"curve":"smooth","theta":0.1341,"value":3.84},{"curve":"smooth","theta":0.1382,"value":3.80},{"curve":"smooth","theta":0.1441,"value":3.82},{"curve":"smooth","theta":0.1512,"value":3.88},{"curve":"smooth","theta":0.1582,"value":3.96},{"curve":"smooth","theta":0.1629,"value":4.00},{"curve":"smooth","theta":0.1706,"value":3.99},{"curve":"smooth","theta":0.1853,"value":3.97},{"curve":"smooth","theta":0.2147,"value":3.93},{"curve":"smooth","theta":0.2441,"value":3.89},{"curve":"smooth","theta":0.2735,"value":3.85},{"curve":"smooth","theta":0.3029,"value":3.82},{"curve":"smooth","theta":0.3500,"value":3.78},

      {"curve":"nonpolar","theta":0.0100,"value":0.45},{"curve":"nonpolar","theta":0.0265,"value":0.46},{"curve":"nonpolar","theta":0.0441,"value":0.47},{"curve":"nonpolar","theta":0.0559,"value":0.48},{"curve":"nonpolar","theta":0.0624,"value":0.50},{"curve":"nonpolar","theta":0.0676,"value":0.56},{"curve":"nonpolar","theta":0.0712,"value":0.61},{"curve":"nonpolar","theta":0.0744,"value":0.67},{"curve":"nonpolar","theta":0.0776,"value":0.80},{"curve":"nonpolar","theta":0.0806,"value":0.96},{"curve":"nonpolar","theta":0.0840,"value":1.20},{"curve":"nonpolar","theta":0.0876,"value":1.54},{"curve":"nonpolar","theta":0.0912,"value":1.87},{"curve":"nonpolar","theta":0.0947,"value":2.16},{"curve":"nonpolar","theta":0.0984,"value":2.40},{"curve":"nonpolar","theta":0.1029,"value":2.70},{"curve":"nonpolar","theta":0.1080,"value":3.00},{"curve":"nonpolar","theta":0.1112,"value":3.16},{"curve":"nonpolar","theta":0.1140,"value":3.23},{"curve":"nonpolar","theta":0.1171,"value":3.00},{"curve":"nonpolar","theta":0.1200,"value":2.80},{"curve":"nonpolar","theta":0.1235,"value":2.50},{"curve":"nonpolar","theta":0.1272,"value":2.20},{"curve":"nonpolar","theta":0.1318,"value":1.96},{"curve":"nonpolar","theta":0.1368,"value":1.73},{"curve":"nonpolar","theta":0.1412,"value":1.62},{"curve":"nonpolar","theta":0.1464,"value":1.53},{"curve":"nonpolar","theta":0.1512,"value":1.47},{"curve":"nonpolar","theta":0.1560,"value":1.43},{"curve":"nonpolar","theta":0.1606,"value":1.40},{"curve":"nonpolar","theta":0.1656,"value":1.37},{"curve":"nonpolar","theta":0.1853,"value":1.34},{"curve":"nonpolar","theta":0.2147,"value":1.32},{"curve":"nonpolar","theta":0.2441,"value":1.31},{"curve":"nonpolar","theta":0.2735,"value":1.30},{"curve":"nonpolar","theta":0.3029,"value":1.29},{"curve":"nonpolar","theta":0.3500,"value":1.27}
    ],
    "fluo_labels": [
      {"theta":0.2724,"value":7.0,"label":"rough polar surface"},
      {"theta":0.2676,"value":2.85,"label":"smooth polar surface"},
      {"theta":0.2791,"value":0.58,"label":"nonpolar surface"}
    ],
    "fluo_panel": [{"theta":0.0047,"value":-1.26,"label":"(b)"}]
  },
  "hconcat": [
    {
      "width": 578,
      "height": 577,
      "encoding": {
        "x": {"field": "theta", "type": "quantitative", "scale": {"domain": [0.01, 0.35], "nice": false, "zero": false},
              "axis": {"title": "θ (degrees)", "values": [0.1, 0.2, 0.3], "format": ".1f", "tickSize": 8, "labelFontSize": 24, "labelPadding": 20, "titleFontSize": 31, "titlePadding": 9}},
        "y": {"field": "value", "type": "quantitative", "scale": {"domain": [0, 11.54], "nice": false, "zero": false},
              "axis": {"title": "Reflectivity", "labels": false, "ticks": false, "titleFontSize": 32, "titlePadding": 4, "titleY": 262}}
      },
      "layer": [
        {"data": {"name": "refl_fit"}, "mark": {"type": "line", "color": "black", "strokeWidth": 2}, "encoding": {"detail": {"field": "curve"}}},
        {"data": {"name": "refl_pts"}, "mark": {"type": "point", "shape": "circle", "filled": false, "color": "black", "strokeWidth": 1.8, "size": 185, "opacity": 1}},
        {"data": {"name": "refl_labels"}, "mark": {"type": "text", "font": "Liberation Serif", "fontSize": 26, "align": "center", "baseline": "alphabetic", "color": "black"}, "encoding": {"text": {"field": "label"}}},
        {"data": {"name": "refl_panel"}, "mark": {"type": "text", "font": "Liberation Serif", "fontSize": 32, "align": "left", "baseline": "alphabetic", "color": "black"}, "encoding": {"text": {"field": "label"}}}
      ]
    },
    {
      "width": 577,
      "height": 577,
      "encoding": {
        "x": {"field": "theta", "type": "quantitative", "scale": {"domain": [0.01, 0.35], "nice": false, "zero": false},
              "axis": {"title": "θ (degrees)", "values": [0.1, 0.2, 0.3], "format": ".1f", "tickSize": 8, "labelFontSize": 24, "labelPadding": 20, "titleFontSize": 31, "titlePadding": 9}},
        "y": {"field": "value", "type": "quantitative", "scale": {"domain": [0, 11.54], "nice": false, "zero": false},
              "axis": {"title": "Normalized Fluorescence Yield", "labels": false, "ticks": false, "titleFontSize": 32, "titlePadding": 4, "titleY": 294}}
      },
      "layer": [
        {"data": {"name": "fluo_fit"}, "mark": {"type": "line", "color": "black", "strokeWidth": 2}, "encoding": {"detail": {"field": "curve"}}},
        {"data": {"name": "fluo_pts"}, "mark": {"type": "point", "shape": "circle", "filled": false, "color": "black", "strokeWidth": 1.8, "size": 235, "opacity": 1}},
        {"data": {"name": "fluo_labels"}, "mark": {"type": "text", "font": "Liberation Serif", "fontSize": 26, "align": "center", "baseline": "alphabetic", "color": "black"}, "encoding": {"text": {"field": "label"}}},
        {"data": {"name": "fluo_panel"}, "mark": {"type": "text", "font": "Liberation Serif", "fontSize": 32, "align": "left", "baseline": "alphabetic", "color": "black"}, "encoding": {"text": {"field": "label"}}}
      ]
    }
  ]
}
